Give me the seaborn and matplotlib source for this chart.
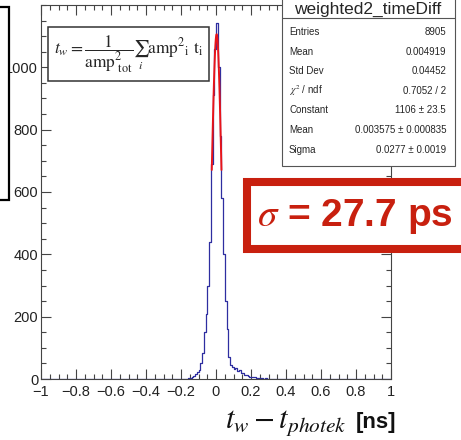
import numpy as np
import pandas as pd
import matplotlib
matplotlib.use("Agg")
import matplotlib.pyplot as plt
from matplotlib.patches import Rectangle
from matplotlib.ticker import MultipleLocator
import seaborn as sns

# -----------------------------
# Data
# -----------------------------
bin_width = 0.01
first_bin_low = -0.18
counts = [
    0, 1, 2, 3, 5, 10, 16, 22, 30, 50,          # -0.18 .. -0.09
    85, 150, 210, 300, 440, 690, 910, 1060,     # -0.08 .. -0.01
    1143, 1000, 780, 580, 400, 250, 160, 70,    #  0.00 ..  0.07
    45, 40, 33, 35, 25, 28, 20, 18, 14, 12,     #  0.08 ..  0.17
    9, 8, 6, 5, 5, 3, 3, 2, 2, 1,               #  0.18 ..  0.27
    2, 1, 1, 0, 1, 0, 1, 0, 1, 0, 0, 1,         #  0.28 ..  0.39
]
hist_name = "weighted2_timeDiff"
stat_labels = ["Entries", "Mean", "Std Dev", r"$\chi^2$ / ndf", "Constant", "Mean", "Sigma"]
stat_values = ["8905", "0.004919", "0.04452", "0.7052 / 2",
               "1106 \u00b1 23.5", "0.003575 \u00b1 0.000835", "0.0277 \u00b1 0.0019"]
fit_const, fit_mean, fit_sigma = 1106, 0.003575, 0.0277
x_ticks = [-1, -0.8, -0.6, -0.4, -0.2, 0, 0.2, 0.4, 0.6, 0.8, 1]
y_ticks = [0, 200, 400, 600, 800, 1000]

centers = first_bin_low + bin_width / 2 + bin_width * np.arange(len(counts))
df = pd.DataFrame({"t": centers, "n": counts})

# -----------------------------
# Figure
# -----------------------------
sns.set_style("ticks")
plt.rcParams["font.family"] = ["Liberation Sans", "DejaVu Sans"]
plt.rcParams["mathtext.fontset"] = "stix"

W, H = 461, 440
fig = plt.figure(figsize=(W / 100, H / 100), dpi=100)
fig.patch.set_facecolor("white")


def fx(px):
    return px / W


def fy(py):
    return 1 - py / H


ax = fig.add_axes([fx(41), fy(379), 350 / W, 374 / H])
sns.histplot(data=df, x="t", weights="n", binwidth=bin_width, binrange=(-1, 1),
             element="step", fill=False, color="#2e2ea0", linewidth=0.9, ax=ax)

# gaussian fit drawn over +-1 sigma, as ROOT does
xf = np.linspace(fit_mean - fit_sigma, fit_mean + fit_sigma, 60)
ax.plot(xf, fit_const * np.exp(-0.5 * ((xf - fit_mean) / fit_sigma) ** 2),
        color="#e8141a", linewidth=1.4)

ax.set_xlim(-1, 1)
ax.set_ylim(0, 1200)
ax.set_xticks(x_ticks)
ax.set_xticklabels([f"{v:g}".replace("-", "\u2212") for v in x_ticks])
ax.set_yticks(y_ticks)
ax.xaxis.set_minor_locator(MultipleLocator(0.05))
ax.yaxis.set_minor_locator(MultipleLocator(50))
ax.tick_params(which="both", direction="in", top=True, right=True,
               color="#444444", labelsize=10.5, labelcolor="#222222")
ax.tick_params(which="major", length=7, width=0.8)
ax.tick_params(axis="x", which="major", pad=4)
ax.tick_params(axis="y", which="major", pad=2)
ax.tick_params(which="minor", length=3.5, width=0.8)
ax.set_xlabel("")
ax.set_ylabel("")
for s in ax.spines.values():
    s.set_color("#444444")
    s.set_linewidth(0.8)

# -----------------------------
# Boxes and annotations
# -----------------------------
# partial frame at the left edge
fig.add_artist(Rectangle((fx(-10), fy(200)), 19 / W, 193 / H, transform=fig.transFigure,
                         facecolor="white", edgecolor="black", linewidth=1.6, zorder=5))

# formula box
fig.add_artist(Rectangle((fx(48), fy(81)), 161 / W, 54 / H, transform=fig.transFigure,
                         facecolor="white", edgecolor="#333333", linewidth=1.1, zorder=5))
fig.text(fx(129), fy(54),
         r"$t_w = \dfrac{1}{\mathrm{amp}^2_{\ \mathrm{tot}}}\sum_{i}\mathrm{amp}^2{}_{\mathrm{i}}\ \mathrm{t}_{\mathrm{i}}$",
         ha="center", va="center", fontsize=12.5, zorder=6)

# stats box
fig.add_artist(Rectangle((fx(282), fy(166)), 173 / W, 172 / H, transform=fig.transFigure,
                         facecolor="white", edgecolor="#555555", linewidth=0.8, zorder=5))
fig.add_artist(plt.Line2D([fx(282), fx(455)], [fy(18), fy(18)], transform=fig.transFigure,
                          color="#555555", linewidth=0.8, zorder=6))
fig.text(fx(368), fy(9), hist_name, ha="center", va="center", fontsize=12.5, zorder=6)
for i, (lab, val) in enumerate(zip(stat_labels, stat_values)):
    yy = fy(32 + 19.6 * i)
    fig.text(fx(289), yy, lab, ha="left", va="center", fontsize=7, zorder=6)
    fig.text(fx(446), yy, val, ha="right", va="center", fontsize=7, zorder=6)

# red sigma box
red = "#c8200f"
fig.add_artist(Rectangle((fx(247), fy(249)), 240 / W, 67 / H, transform=fig.transFigure,
                         facecolor="white", edgecolor=red, linewidth=5.8, zorder=5))
fig.text(fx(257), fy(216), r"$\sigma$ = 27.7 ps", ha="left", va="center",
         fontsize=28, fontweight="bold", color=red, zorder=6)

# x axis title
fig.text(fx(225), fy(428), r"$t_w - t_{photek}$", ha="left", va="baseline",
         fontsize=22, color="#111111")
fig.text(fx(356), fy(428), "[ns]", ha="left", va="baseline",
         fontsize=16, fontweight="bold", color="#111111")

plt.savefig("out.png", dpi=100)
plt.close()
